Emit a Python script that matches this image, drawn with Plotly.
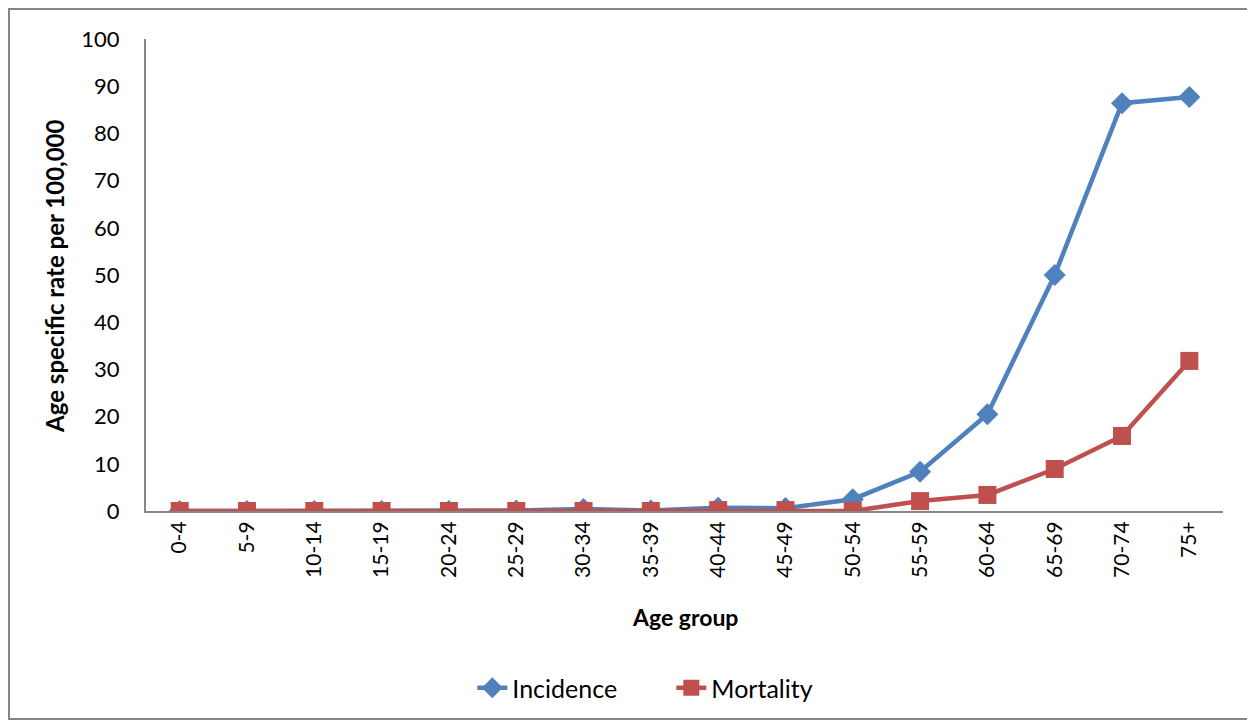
import plotly.graph_objects as go

age_groups = ["0-4", "5-9", "10-14", "15-19", "20-24", "25-29", "30-34", "35-39",
              "40-44", "45-49", "50-54", "55-59", "60-64", "65-69", "70-74", "75+"]
incidence = [0, 0, 0, 0, 0, 0.1, 0.4, 0.1, 0.7, 0.6, 2.5, 8.3, 20.5, 50.0, 86.4, 87.7]
mortality = [0, 0, 0, 0, 0, 0, 0, 0, 0.2, 0.2, 0, 2.1, 3.4, 8.9, 15.9, 31.8]

FONT = "Lato, Calibri, 'Liberation Sans', sans-serif"

fig = go.Figure()
fig.add_trace(go.Scatter(
    x=age_groups, y=incidence, name="Incidence", mode="lines+markers",
    line=dict(color="#4F81BD", width=4.5),
    marker=dict(symbol="diamond", size=17, color="#4F81BD"),
))
fig.add_trace(go.Scatter(
    x=age_groups, y=mortality, name="Mortality", mode="lines+markers",
    line=dict(color="#C0504D", width=4.5),
    marker=dict(symbol="square", size=18, color="#C0504D"),
))

# page has 8px body margin; plot area in page coords: x 146..1223, y 39..511
fig.update_layout(
    width=1247, height=716,
    margin=dict(l=138, r=32, t=31, b=213),
    paper_bgcolor="white", plot_bgcolor="white",
    font=dict(family=FONT, size=21, color="#000000"),
    showlegend=True,
    legend=dict(orientation="h", x=0.303, y=-0.375, xanchor="left", yanchor="middle",
                font=dict(size=25), traceorder="normal", entrywidth=154),
    xaxis=dict(
        type="category", range=[-0.5, len(age_groups) - 0.5], showgrid=False,
        showline=True, linecolor="#868686", linewidth=2,
        tickangle=-90, tickfont=dict(size=21), ticks="", zeroline=False,
    ),
    yaxis=dict(
        range=[0, 100], dtick=10, showgrid=False, showline=True, linecolor="#868686",
        linewidth=2, tickfont=dict(size=22), ticks="", zeroline=False,
        ticklabelstandoff=20,
    ),
    shapes=[dict(type="rect", xref="paper", yref="paper",
                 x0=-0.1272, x1=1.025, y0=-0.4407, y1=1.0636,
                 line=dict(color="#868686", width=2))],
    annotations=[
        dict(text="<b>Age group</b>", xref="paper", yref="paper", x=0.5005, y=-0.2246,
             xanchor="center", yanchor="middle", showarrow=False, font=dict(size=23)),
        dict(text="<b>Age specific rate per 100,000</b>", xref="paper", yref="paper",
             x=-0.0845, y=0.498, xanchor="center", yanchor="middle", textangle=-90,
             showarrow=False, font=dict(size=24)),
    ],
)

fig.write_html("out.html")
